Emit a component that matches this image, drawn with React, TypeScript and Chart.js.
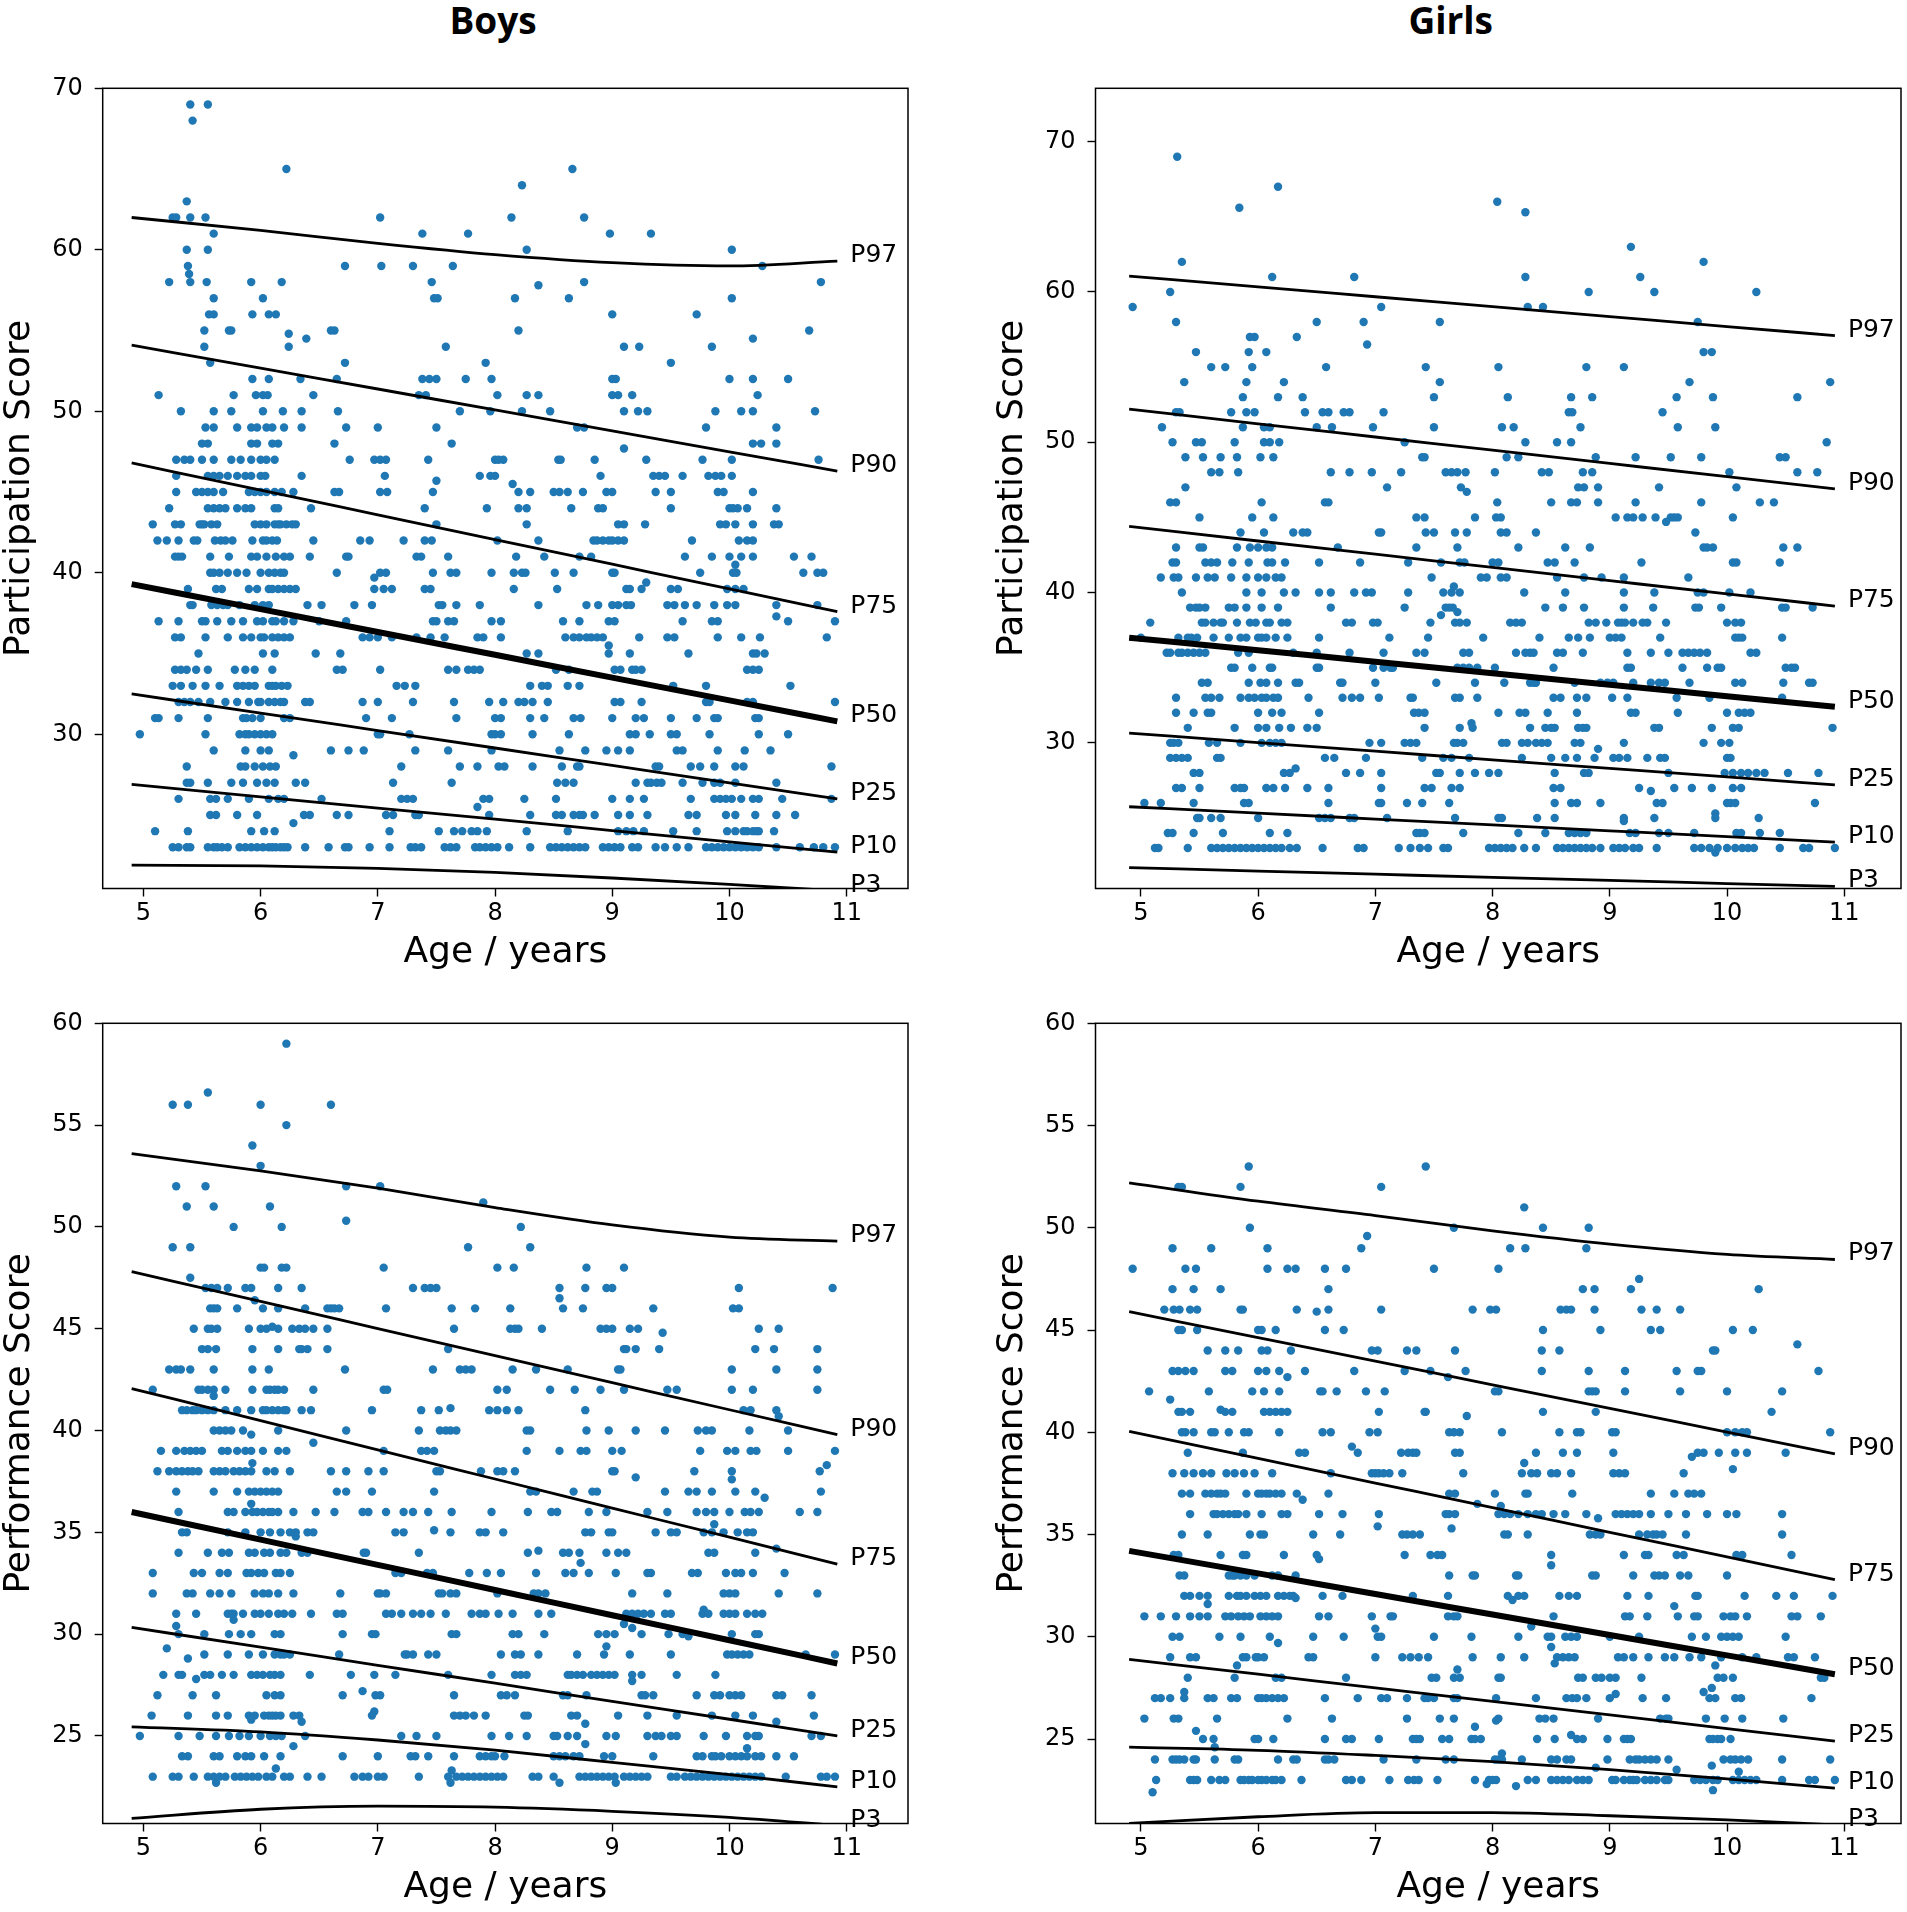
import React, { useEffect, useRef } from 'react';
import { Chart, registerables } from 'chart.js';
Chart.register(...registerables);

const FONT = '"DejaVu Sans"';
const DOT = '#1f77b4';

const ageTicks = [5, 6, 7, 8, 9, 10, 11];
const participationTicks = [30, 40, 50, 60, 70];
const performanceTicks = [25, 30, 35, 40, 45, 50, 55, 60];
const pctLabels = ['P97', 'P90', 'P75', 'P50', 'P25', 'P10', 'P3'];
const curveAges = [4.9, 6, 7, 8, 9, 10, 10.92];

// percentile curves (values at curveAges), order as pctLabels
const boysPartCurves = [
  [62.0, 61.2, 60.4, 59.7, 59.2, 59.0, 59.3],
  [54.1, 52.67, 51.38, 50.08, 48.79, 47.49, 46.3],
  [46.8, 45.12, 43.59, 42.06, 40.53, 39.0, 37.6],
  [39.3, 37.75, 36.33, 34.92, 33.51, 32.1, 30.8],
  [32.5, 31.31, 30.23, 29.15, 28.07, 26.99, 26.0],
  [26.9, 26.13, 25.43, 24.74, 24.04, 23.34, 22.7],
  [21.9, 21.85, 21.7, 21.45, 21.1, 20.7, 20.3],
];
const girlsPartCurves = [
  [61.06, 60.34, 59.68, 59.02, 58.36, 57.7, 57.1],
  [52.2, 51.23, 50.35, 49.47, 48.59, 47.71, 46.9],
  [44.4, 43.43, 42.55, 41.67, 40.79, 39.91, 39.1],
  [37.0, 36.16, 35.4, 34.63, 33.87, 33.1, 32.4],
  [30.65, 30.02, 29.45, 28.87, 28.3, 27.73, 27.2],
  [25.75, 25.32, 24.93, 24.54, 24.15, 23.76, 23.4],
  [21.7, 21.47, 21.26, 21.05, 20.85, 20.64, 20.45],
];
const boysPerfCurves = [
  [53.6, 52.75, 51.9, 50.95, 50.1, 49.5, 49.3],
  [47.8, 46.34, 45.01, 43.68, 42.35, 41.02, 39.8],
  [42.06, 40.49, 39.05, 37.62, 36.19, 34.76, 33.44],
  [36.0, 34.64, 33.4, 32.17, 30.93, 29.7, 28.56],
  [30.33, 29.36, 28.47, 27.59, 26.7, 25.82, 25.0],
  [25.45, 25.2, 24.8, 24.3, 23.7, 23.1, 22.5],
  [20.95, 21.4, 21.55, 21.5, 21.3, 21.0, 20.6],
];
const girlsPerfCurves = [
  [52.2, 51.3, 50.6, 49.85, 49.2, 48.7, 48.45],
  [45.9, 44.63, 43.48, 42.32, 41.17, 40.01, 38.95],
  [40.05, 38.72, 37.52, 36.32, 35.11, 33.91, 32.8],
  [34.2, 33.1, 32.09, 31.09, 30.09, 29.09, 28.17],
  [28.9, 28.17, 27.5, 26.84, 26.18, 25.51, 24.9],
  [24.6, 24.45, 24.2, 23.9, 23.5, 23.05, 22.6],
  [20.87, 21.2, 21.4, 21.4, 21.25, 21.05, 20.8],
];

// scatter points: [score, [ages...]]
const boysPartRows: [number, number[]][] = [
  [69, [5.4, 5.55]], [68, [5.42]], [65, [6.22, 8.66]], [64, [8.23]], [63, [5.37]],
  [62, [5.25, 5.28, 5.4, 5.53, 7.02, 8.14, 8.76]],
  [61, [5.6, 7.38, 7.77, 8.98, 9.33]],
  [60, [5.37, 5.55, 8.27, 10.02]],
  [59, [5.38, 6.72, 7.03, 7.3, 7.64, 10.28]], [58.5, [5.39]],
  [58, [5.22, 5.4, 5.54, 5.92, 6.18, 7.46, 8.76, 10.78]], [57.8, [8.37]],
  [57, [5.6, 6.02, 7.48, 7.51, 8.17, 8.63, 10.02]],
  [56, [5.56, 5.6, 5.93, 6.07, 6.13, 9.0, 9.72]],
  [55, [5.52, 5.73, 5.75, 6.6, 6.63, 8.2, 10.68]], [54.8, [6.24]],
  [54, [5.52, 6.24, 7.58, 9.1, 9.23, 9.85]], [54.5, [6.39, 10.2]],
  [53, [5.57, 6.72, 7.92, 9.5]],
  [52, [5.93, 6.07, 6.34, 6.65, 7.38, 7.44, 7.5, 7.75, 7.97, 9.0, 9.03, 10.0, 10.2, 10.5]],
  [51, [5.13, 5.77, 5.96, 6.02, 6.06, 6.45, 7.35, 7.41, 8.02, 8.27, 8.37, 9.0, 9.05, 9.17, 10.24]],
  [50, [5.32, 5.6, 5.75, 6.02, 6.19, 6.35, 6.66, 7.7, 7.96, 8.23, 8.47, 9.1, 9.22, 9.3, 9.88, 10.1, 10.2, 10.73]],
  [49, [5.53, 5.6, 5.8, 5.92, 5.97, 6.05, 6.1, 6.2, 6.35, 6.73, 7.0, 7.5, 8.7, 8.76, 9.8, 10.4]],
  [48, [5.5, 5.55, 5.92, 5.97, 6.1, 6.15, 6.63, 7.63, 10.2, 10.27, 10.4]], [47.7, [9.1]],
  [47, [5.28, 5.35, 5.4, 5.5, 5.6, 5.75, 5.83, 5.92, 6.0, 6.05, 6.12, 6.76, 6.97, 7.02, 7.07, 7.43, 8.0, 8.03, 8.07, 8.54, 8.56, 8.85, 9.29, 9.77, 10.02, 10.76]],
  [46, [5.28, 5.55, 5.6, 5.65, 5.72, 5.8, 5.87, 5.92, 6.0, 6.04, 6.35, 7.06, 7.87, 7.96, 8.0, 8.9, 9.35, 9.4, 9.45, 9.6, 9.82, 9.88, 9.93, 10.02]],
  [45.7, [7.5]], [45.5, [8.15]],
  [45, [5.28, 5.45, 5.5, 5.55, 5.6, 5.68, 5.9, 5.95, 6.0, 6.05, 6.12, 6.18, 6.28, 6.63, 6.67, 7.02, 7.08, 7.47, 8.2, 8.3, 8.5, 8.55, 8.62, 8.75, 8.95, 9.0, 9.37, 9.5, 9.9, 9.95, 10.2]],
  [44, [5.22, 5.55, 5.6, 5.65, 5.7, 5.8, 5.87, 5.92, 6.12, 6.15, 6.43, 7.4, 7.93, 8.2, 8.27, 8.65, 8.88, 8.92, 9.5, 10.0, 10.03, 10.07, 10.15, 10.4]],
  [43, [5.08, 5.27, 5.32, 5.48, 5.5, 5.52, 5.58, 5.63, 5.95, 6.0, 6.05, 6.12, 6.15, 6.17, 6.22, 6.27, 6.3, 7.5, 8.27, 9.05, 9.1, 9.28, 9.92, 9.97, 10.05, 10.2, 10.38, 10.42]],
  [42, [5.12, 5.2, 5.3, 5.43, 5.46, 5.61, 5.66, 5.7, 5.76, 5.93, 6.02, 6.05, 6.1, 6.14, 6.45, 6.85, 6.93, 7.22, 7.4, 7.46, 8.02, 8.37, 8.84, 8.87, 8.92, 8.97, 9.0, 9.05, 9.1, 9.68, 10.08, 10.15, 10.2]],
  [41, [5.27, 5.3, 5.33, 5.57, 5.73, 5.92, 5.97, 6.05, 6.13, 6.2, 6.25, 6.42, 6.73, 6.75, 7.33, 7.37, 7.6, 8.18, 8.42, 8.72, 8.82, 9.62, 9.85, 10.0, 10.1, 10.2, 10.55, 10.7]],
  [40.5, [10.05]],
  [40, [5.57, 5.6, 5.65, 5.72, 5.8, 5.88, 6.0, 6.07, 6.12, 6.17, 6.2, 6.65, 7.02, 7.07, 7.47, 7.62, 7.67, 7.97, 8.16, 8.23, 8.26, 8.51, 8.67, 9.0, 9.02, 9.75, 10.03, 10.06, 10.63, 10.75, 10.8]],
  [39.7, [6.97]], [39.4, [9.29]],
  [39, [5.38, 5.62, 5.67, 5.9, 5.97, 6.07, 6.1, 6.15, 6.2, 6.25, 6.3, 6.97, 7.05, 7.12, 7.4, 7.45, 8.16, 8.53, 9.12, 9.15, 9.25, 9.5, 9.56, 9.98, 10.05, 10.12]],
  [38, [5.4, 5.42, 5.58, 5.63, 5.68, 5.72, 5.82, 5.95, 6.02, 6.07, 6.4, 6.52, 6.8, 6.95, 7.52, 7.55, 7.67, 7.87, 8.37, 8.78, 8.88, 9.0, 9.05, 9.12, 9.16, 9.47, 9.53, 9.62, 9.72, 9.87, 9.98, 10.05, 10.4, 10.75]],
  [37.3, [10.4]],
  [37, [5.13, 5.3, 5.5, 5.53, 5.63, 5.75, 5.85, 5.97, 6.02, 6.1, 6.13, 6.2, 6.28, 6.5, 6.73, 7.47, 7.5, 7.6, 7.65, 7.97, 8.05, 8.58, 8.72, 8.97, 9.02, 9.6, 9.85, 9.9, 10.5, 10.9]],
  [36, [5.27, 5.32, 5.53, 5.72, 5.85, 5.92, 6.0, 6.03, 6.1, 6.15, 6.2, 6.25, 6.87, 6.93, 7.0, 7.12, 7.33, 7.45, 7.57, 7.85, 7.9, 8.05, 8.6, 8.67, 8.72, 8.78, 8.82, 8.87, 8.92, 9.23, 9.47, 9.53, 9.9, 10.1, 10.26, 10.83]],
  [35.5, [8.97]],
  [35, [5.47, 6.02, 6.12, 6.47, 6.68, 8.27, 8.37, 8.97, 9.15, 9.65, 10.2, 10.23, 10.3]],
  [34, [5.27, 5.32, 5.37, 5.45, 5.55, 5.78, 5.87, 5.95, 6.1, 6.65, 6.7, 7.02, 7.6, 7.67, 7.77, 7.82, 7.87, 8.52, 8.63, 9.02, 9.07, 9.17, 9.2, 9.25, 10.15, 10.2, 10.25]],
  [33, [5.25, 5.32, 5.42, 5.53, 5.65, 5.8, 5.85, 5.9, 5.95, 6.07, 6.1, 6.13, 6.18, 6.23, 7.16, 7.23, 7.32, 8.3, 8.4, 8.45, 8.62, 8.72, 9.52, 9.8, 10.52]],
  [32, [5.3, 5.35, 5.4, 5.47, 5.57, 5.7, 5.8, 5.9, 5.98, 6.0, 6.07, 6.12, 6.17, 6.2, 6.38, 6.42, 6.87, 7.0, 7.3, 7.65, 7.95, 8.07, 8.2, 8.25, 8.32, 8.45, 9.02, 9.07, 9.25, 9.8, 9.83, 10.15, 10.2, 10.9]],
  [31, [5.1, 5.13, 5.3, 5.55, 5.85, 5.88, 5.93, 6.0, 6.2, 6.25, 6.9, 7.12, 7.67, 8.0, 8.05, 8.3, 8.42, 8.67, 8.73, 9.0, 9.2, 9.27, 9.5, 9.72, 9.87, 9.9, 10.22, 10.25]],
  [30, [4.97, 5.53, 5.82, 5.87, 5.9, 5.95, 6.0, 6.05, 6.1, 7.0, 7.02, 7.27, 7.97, 8.0, 8.05, 8.32, 8.63, 9.15, 9.2, 9.32, 9.5, 9.55, 9.83, 10.25, 10.5]],
  [29, [5.6, 5.87, 6.0, 6.07, 6.6, 6.75, 6.88, 7.32, 7.6, 7.97, 8.55, 8.77, 8.95, 9.05, 9.15, 9.55, 9.6, 9.9, 10.13, 10.35]],
  [28.7, [6.28]],
  [28, [5.37, 5.83, 5.87, 5.95, 6.02, 6.08, 6.13, 7.2, 7.7, 7.85, 8.03, 8.08, 8.32, 8.57, 8.7, 8.72, 9.37, 9.4, 9.67, 9.75, 9.87, 10.05, 10.12, 10.87]],
  [27, [5.37, 5.4, 5.55, 5.75, 5.85, 5.97, 6.05, 6.12, 6.3, 6.38, 7.13, 7.63, 8.53, 8.6, 8.67, 9.2, 9.3, 9.33, 9.38, 9.42, 9.6, 9.77, 9.87, 9.92, 10.05, 10.4]],
  [26, [5.3, 5.57, 5.62, 5.72, 5.9, 6.07, 6.15, 6.2, 6.52, 7.2, 7.25, 7.3, 7.9, 7.95, 8.25, 8.52, 9.0, 9.15, 9.27, 9.67, 9.87, 9.92, 9.97, 10.02, 10.1, 10.2, 10.25, 10.45, 10.87]],
  [25.5, [7.85]],
  [25, [5.57, 5.62, 5.8, 5.97, 6.37, 6.42, 6.65, 6.75, 7.07, 7.13, 7.32, 7.35, 7.95, 8.3, 8.52, 8.57, 8.67, 8.72, 8.75, 8.85, 9.05, 9.15, 9.3, 9.65, 9.72, 9.97, 10.05, 10.22, 10.4, 10.56]],
  [24.5, [6.28]],
  [24, [5.1, 5.38, 5.92, 6.03, 6.12, 7.1, 7.52, 7.65, 7.72, 7.8, 7.85, 7.93, 8.27, 8.62, 9.05, 9.12, 9.18, 9.27, 9.52, 9.72, 9.98, 10.05, 10.12, 10.15, 10.2, 10.23, 10.25, 10.38]],
  [23, [5.25, 5.3, 5.37, 5.4, 5.55, 5.6, 5.63, 5.67, 5.72, 5.82, 5.87, 5.92, 5.97, 6.02, 6.07, 6.1, 6.13, 6.17, 6.2, 6.23, 6.38, 6.58, 6.72, 6.75, 6.93, 7.1, 7.28, 7.32, 7.37, 7.57, 7.62, 7.67, 7.83, 7.87, 7.92, 7.97, 8.02, 8.12, 8.3, 8.47, 8.52, 8.57, 8.62, 8.67, 8.72, 8.77, 8.92, 8.97, 9.02, 9.07, 9.17, 9.22, 9.37, 9.45, 9.55, 9.65, 9.8, 9.85, 9.9, 9.95, 10.0, 10.05, 10.1, 10.15, 10.2, 10.25, 10.4, 10.6, 10.72, 10.8, 10.9]],
];

const girlsPartRows: [number, number[]][] = [
  [69, [5.31]], [67, [6.17]], [66, [8.04]], [65.6, [5.84]], [65.3, [8.28]], [63, [9.18]],
  [62, [5.35, 9.8]],
  [61, [6.12, 6.82, 8.28, 9.26]],
  [60, [5.25, 8.82, 9.38, 10.25]],
  [59, [4.93, 7.05, 8.3, 8.43]],
  [58, [5.3, 6.5, 6.9, 7.55, 9.75]],
  [57, [5.93, 5.97, 6.33]], [56.5, [6.93]],
  [56, [5.47, 5.92, 6.07, 9.8, 9.87]],
  [55, [5.6, 5.72, 5.95, 6.58, 7.43, 8.05, 8.8, 9.12]],
  [54, [5.37, 5.9, 6.22, 7.55, 9.68, 10.88]],
  [53, [5.87, 6.17, 6.38, 7.5, 8.13, 8.67, 8.85, 9.57, 9.88, 10.6]],
  [52, [5.3, 5.33, 5.77, 5.9, 5.97, 6.4, 6.55, 6.6, 6.73, 6.78, 7.07, 8.65, 8.68, 9.45]],
  [51, [5.18, 5.87, 6.05, 6.1, 6.5, 6.63, 6.98, 7.5, 8.08, 8.18, 8.75, 9.58, 9.9]],
  [50, [5.27, 5.47, 5.52, 5.8, 6.05, 6.1, 6.18, 7.25, 8.28, 8.55, 8.67, 10.85]],
  [49, [5.38, 5.53, 5.68, 5.82, 6.02, 6.13, 7.4, 7.42, 8.12, 8.22, 8.88, 9.22, 9.52, 9.78, 10.45, 10.5]],
  [48, [5.6, 5.67, 5.83, 6.62, 6.78, 6.97, 7.22, 7.6, 7.65, 7.7, 7.77, 8.02, 8.42, 8.48, 8.77, 8.85, 10.02, 10.6, 10.77]],
  [47, [5.38, 7.1, 7.73, 8.73, 8.78, 8.9, 9.42, 10.08]], [46.7, [7.78]],
  [46, [5.25, 5.3, 6.03, 6.57, 6.6, 8.04, 8.5, 8.67, 8.72, 8.9, 9.22, 9.78, 10.28, 10.4]],
  [45, [5.5, 5.95, 6.13, 7.35, 7.42, 7.85, 8.03, 8.07, 9.05, 9.15, 9.2, 9.28, 9.39, 9.52, 9.55, 9.58, 10.05]],
  [44.7, [9.48]],
  [44, [5.85, 6.05, 6.3, 6.38, 6.42, 7.03, 7.05, 7.43, 7.5, 7.68, 7.78, 8.07, 8.12, 8.37, 9.73]],
  [43, [5.3, 5.5, 5.53, 5.82, 5.93, 6.0, 6.07, 6.12, 6.68, 7.35, 7.7, 8.22, 8.62, 8.83, 9.8, 9.83, 9.88, 10.48, 10.6]],
  [42, [5.27, 5.3, 5.55, 5.6, 5.65, 5.78, 5.92, 6.08, 6.12, 6.23, 6.52, 6.87, 7.28, 7.56, 7.72, 7.76, 8.0, 8.05, 8.47, 8.53, 8.7, 9.27, 10.05, 10.08, 10.45]],
  [41, [5.17, 5.28, 5.32, 5.47, 5.57, 5.63, 5.77, 5.9, 6.0, 6.07, 6.15, 6.2, 7.48, 7.9, 7.95, 8.07, 8.12, 8.55, 8.78, 8.93, 9.12, 9.67]],
  [40.4, [7.67]],
  [40, [5.35, 5.9, 6.03, 6.22, 6.32, 6.52, 6.62, 6.82, 6.92, 6.97, 7.28, 7.58, 7.65, 7.72, 8.27, 8.62, 9.12, 9.38, 9.75, 9.8, 10.02, 10.2]],
  [39, [5.42, 5.47, 5.5, 5.55, 5.75, 5.8, 5.9, 6.03, 6.17, 6.62, 7.25, 7.6, 7.63, 7.66, 8.45, 8.6, 8.78, 9.12, 9.37, 9.73, 9.76, 9.95, 10.47, 10.5, 10.73]],
  [38.7, [7.7]], [38.5, [7.56]],
  [38, [5.08, 5.52, 5.55, 5.62, 5.68, 5.7, 5.82, 5.93, 5.98, 6.07, 6.1, 6.2, 6.25, 6.75, 6.8, 6.98, 7.02, 7.47, 7.68, 7.72, 7.78, 8.15, 8.2, 8.25, 8.82, 8.88, 8.97, 9.07, 9.1, 9.13, 9.2, 9.28, 9.32, 9.48, 10.0, 10.07, 10.12]],
  [37, [5.0, 5.32, 5.4, 5.43, 5.48, 5.62, 5.75, 5.85, 5.9, 6.0, 6.03, 6.07, 6.15, 6.25, 6.52, 7.12, 7.45, 7.92, 8.4, 8.65, 8.73, 8.83, 9.0, 9.05, 9.1, 9.43, 10.07, 10.1, 10.13, 10.47]],
  [36, [5.22, 5.25, 5.32, 5.35, 5.4, 5.45, 5.5, 5.55, 5.83, 5.92, 6.3, 6.5, 6.78, 7.07, 7.35, 7.42, 7.75, 7.8, 8.2, 8.28, 8.32, 8.35, 8.55, 8.6, 8.77, 9.15, 9.35, 9.5, 9.62, 9.67, 9.72, 9.77, 9.83, 10.2, 10.25]],
  [35, [5.77, 5.8, 5.95, 6.1, 6.12, 6.5, 6.52, 6.98, 7.07, 7.13, 7.15, 7.7, 7.75, 7.8, 7.87, 8.02, 8.52, 9.15, 9.18, 9.62, 9.83, 9.92, 9.95, 10.5, 10.55, 10.58]],
  [34, [5.52, 5.57, 5.92, 6.02, 6.07, 6.17, 6.32, 6.35, 6.7, 6.72, 7.0, 7.52, 7.85, 8.1, 8.32, 8.35, 8.37, 8.7, 8.92, 8.98, 9.03, 9.2, 9.35, 9.42, 9.47, 9.68, 10.07, 10.13, 10.48, 10.7, 10.73]],
  [33, [5.3, 5.55, 5.6, 5.67, 5.85, 5.92, 5.97, 6.03, 6.07, 6.13, 6.17, 6.43, 6.72, 6.8, 6.87, 7.03, 7.3, 7.32, 7.68, 7.72, 7.87, 8.52, 8.58, 8.72, 8.8, 9.02, 9.15, 9.57, 9.85, 10.47]],
  [32, [5.3, 5.45, 5.57, 5.6, 6.0, 6.12, 6.2, 6.52, 7.33, 7.37, 7.42, 8.05, 8.23, 8.28, 8.47, 8.72, 9.18, 9.22, 9.58, 10.0, 10.1, 10.15, 10.2]],
  [31.3, [7.82]],
  [31, [5.4, 5.8, 6.0, 6.07, 6.18, 6.28, 6.42, 6.5, 7.42, 7.72, 7.83, 8.32, 8.45, 8.5, 8.53, 8.73, 8.77, 8.8, 9.38, 9.42, 9.87, 10.05, 10.1, 10.9]],
  [30, [5.25, 5.28, 5.32, 5.58, 5.65, 5.85, 6.03, 6.1, 6.15, 6.2, 6.95, 7.05, 7.25, 7.3, 7.35, 7.67, 7.7, 7.75, 8.08, 8.12, 8.25, 8.3, 8.37, 8.42, 8.47, 8.7, 8.75, 9.12, 9.8, 9.95, 10.02]],
  [29.6, [8.9]],
  [29, [5.25, 5.3, 5.35, 5.4, 5.65, 5.68, 6.57, 6.65, 6.92, 7.4, 7.58, 7.65, 7.8, 8.25, 8.5, 8.62, 8.72, 8.87, 9.03, 9.08, 9.15, 9.32, 9.43, 9.47, 10.0, 10.03]],
  [28.3, [6.32]],
  [28, [5.45, 5.5, 6.22, 6.27, 6.75, 6.87, 7.05, 7.52, 7.55, 7.72, 7.85, 7.97, 8.05, 8.53, 8.78, 8.82, 9.5, 9.98, 10.05, 10.12, 10.18, 10.25, 10.32, 10.52, 10.78]],
  [27, [5.3, 5.35, 5.5, 5.8, 5.85, 5.88, 6.07, 6.13, 6.23, 6.42, 6.6, 7.05, 7.42, 7.48, 7.65, 7.72, 8.52, 8.58, 9.25, 9.55, 9.7, 9.87, 10.05, 10.12]],
  [26.8, [9.35]],
  [26, [5.03, 5.17, 5.45, 5.88, 5.92, 6.6, 7.03, 7.05, 7.27, 7.4, 7.63, 8.53, 8.67, 8.72, 8.92, 9.4, 9.45, 10.0, 10.03, 10.07, 10.75]],
  [25.3, [9.9]],
  [25, [5.48, 5.5, 5.6, 5.68, 6.0, 6.52, 6.57, 6.62, 6.78, 6.82, 7.1, 7.68, 8.05, 8.08, 8.38, 8.53, 9.12, 9.38, 9.9, 10.27]],
  [24.8, [9.12]],
  [24, [5.23, 5.27, 5.45, 5.7, 6.1, 6.25, 7.35, 7.38, 7.42, 7.75, 8.22, 8.45, 8.65, 8.7, 8.75, 8.8, 9.17, 9.22, 9.42, 9.5, 9.72, 10.08, 10.12, 10.28, 10.45]],
  [23, [5.12, 5.15, 5.4, 5.6, 5.65, 5.7, 5.75, 5.8, 5.85, 5.9, 5.95, 6.0, 6.05, 6.1, 6.15, 6.2, 6.27, 6.33, 6.55, 6.85, 6.9, 7.2, 7.3, 7.38, 7.45, 7.58, 7.62, 7.97, 8.02, 8.07, 8.12, 8.17, 8.27, 8.37, 8.55, 8.6, 8.65, 8.7, 8.75, 8.8, 8.85, 8.92, 9.03, 9.08, 9.13, 9.2, 9.25, 9.4, 9.72, 9.78, 9.85, 9.92, 10.0, 10.07, 10.13, 10.18, 10.23, 10.45, 10.65, 10.7, 10.92]],
  [22.7, [9.9]],
];

const boysPerfRows: [number, number[]][] = [
  [59, [6.22]], [56.6, [5.55]], [56, [5.25, 5.38, 6.0, 6.6]], [55, [6.22]], [54, [5.93]], [53, [6.0]],
  [52, [5.28, 5.53, 6.73, 7.02]], [51.2, [7.9]], [51, [5.37, 5.6, 6.08]], [50.3, [6.73]],
  [50, [5.77, 6.18, 8.22]], [49, [5.25, 5.4, 7.77, 8.3]],
  [48, [6.0, 6.03, 6.18, 6.22, 7.05, 8.02, 8.16, 8.78, 9.1]], [47.5, [5.4]],
  [47, [5.53, 5.58, 5.63, 5.72, 5.87, 5.92, 6.15, 6.35, 7.3, 7.4, 7.45, 7.5, 8.55, 8.77, 8.95, 9.0, 10.08, 10.88]],
  [46.5, [8.55]], [46.4, [5.95]],
  [46, [5.57, 5.6, 5.63, 5.8, 6.02, 6.15, 6.38, 6.57, 6.6, 6.63, 6.67, 7.07, 7.63, 7.83, 8.13, 8.58, 8.75, 9.35, 10.03, 10.08]],
  [45.1, [6.1]],
  [45, [5.43, 5.55, 5.58, 5.63, 5.9, 6.0, 6.05, 6.15, 6.27, 6.33, 6.38, 6.45, 6.57, 7.65, 8.13, 8.17, 8.2, 8.4, 8.9, 8.95, 9.0, 9.15, 9.22, 10.25, 10.42]],
  [44.8, [9.43]],
  [44, [5.5, 5.55, 5.62, 5.93, 6.15, 6.33, 6.35, 6.4, 6.57, 7.6, 9.1, 9.12, 9.2, 9.4, 10.22, 10.38, 10.75]],
  [43, [5.22, 5.28, 5.32, 5.4, 5.6, 5.93, 6.07, 6.72, 7.47, 7.7, 7.75, 7.8, 8.15, 8.35, 8.62, 9.05, 9.07, 10.02, 10.4, 10.75]],
  [42, [5.08, 5.47, 5.5, 5.55, 5.6, 5.7, 5.93, 6.05, 6.08, 6.12, 6.15, 6.2, 6.45, 7.05, 7.08, 8.02, 8.1, 8.47, 8.68, 8.9, 9.1, 9.47, 9.55, 10.02, 10.2, 10.75]],
  [41.7, [5.6]], [41.1, [7.62]],
  [41, [5.33, 5.37, 5.42, 5.45, 5.5, 5.55, 5.6, 5.7, 5.8, 5.92, 6.02, 6.05, 6.1, 6.15, 6.2, 6.22, 6.35, 6.43, 6.95, 7.37, 7.52, 7.95, 8.02, 8.1, 8.2, 8.77, 10.12, 10.18, 10.4]],
  [40.7, [10.42]],
  [40, [5.6, 5.65, 5.7, 5.75, 5.85, 6.15, 6.73, 7.35, 7.53, 7.58, 7.62, 7.67, 8.27, 8.3, 8.78, 8.97, 9.2, 9.45, 9.73, 9.8, 9.85, 10.17, 10.5]],
  [39.8, [5.92]], [39.4, [6.45]],
  [39, [5.15, 5.28, 5.35, 5.4, 5.45, 5.5, 5.67, 5.72, 5.8, 5.87, 5.92, 6.02, 6.15, 6.22, 7.05, 7.37, 7.42, 7.48, 8.27, 8.55, 8.73, 8.78, 9.0, 9.08, 9.75, 9.98, 10.05, 10.18, 10.23, 10.5, 10.9]],
  [38.4, [5.93]], [38.3, [10.83]],
  [38, [5.12, 5.22, 5.28, 5.33, 5.38, 5.42, 5.47, 5.6, 5.65, 5.7, 5.77, 5.82, 5.87, 5.92, 6.05, 6.12, 6.25, 6.6, 6.73, 6.92, 7.05, 7.5, 7.53, 7.88, 8.02, 8.07, 8.17, 9.0, 9.02, 9.7, 10.02, 10.77]],
  [37.7, [9.2]], [37.6, [10.02]],
  [37, [5.28, 5.6, 5.8, 5.9, 5.95, 6.0, 6.05, 6.1, 6.15, 6.65, 6.73, 6.95, 7.48, 8.3, 8.35, 8.67, 8.83, 8.87, 9.45, 9.65, 9.72, 9.85, 10.05, 10.22, 10.78]],
  [36.7, [10.3]], [36.4, [5.92]],
  [36, [5.3, 5.72, 5.77, 5.87, 5.93, 5.97, 6.02, 6.07, 6.1, 6.15, 6.28, 6.47, 6.63, 6.87, 6.92, 7.07, 7.22, 7.3, 7.43, 7.63, 7.97, 8.28, 8.48, 8.53, 8.8, 8.95, 9.3, 9.47, 9.72, 9.8, 9.87, 10.0, 10.13, 10.18, 10.25, 10.6, 10.75]],
  [35.4, [9.87]], [35.1, [7.48]],
  [35, [5.33, 5.37, 5.72, 5.87, 6.0, 6.08, 6.17, 6.25, 6.3, 6.4, 6.45, 7.15, 7.22, 7.62, 7.87, 7.92, 8.07, 8.77, 8.82, 8.97, 9.0, 9.37, 9.5, 9.55, 9.78, 9.85, 9.95, 10.07, 10.15, 10.2]],
  [34.8, [6.3]], [34.2, [10.4]], [34.1, [8.37]],
  [34, [5.3, 5.55, 5.67, 5.73, 5.9, 5.95, 6.03, 6.08, 6.17, 6.22, 6.35, 6.4, 6.88, 6.9, 7.35, 8.28, 8.58, 8.63, 8.72, 8.95, 9.05, 9.12, 9.82, 9.87, 10.22]],
  [33.5, [8.73]],
  [33, [5.08, 5.43, 5.5, 5.65, 5.72, 5.88, 5.92, 5.98, 6.03, 6.13, 6.17, 6.25, 7.15, 7.2, 7.42, 7.47, 7.78, 7.93, 8.05, 8.35, 8.6, 8.67, 8.8, 9.03, 9.3, 9.33, 9.68, 9.73, 9.97, 10.05, 10.1, 10.2, 10.47]],
  [32, [5.08, 5.37, 5.42, 5.57, 5.65, 5.75, 5.95, 6.02, 6.07, 6.15, 6.28, 6.68, 7.0, 7.02, 7.07, 7.52, 7.55, 7.62, 7.67, 8.02, 8.33, 8.37, 8.43, 9.17, 9.47, 9.95, 10.0, 10.05, 10.42, 10.75]],
  [31.2, [9.78]],
  [31, [5.28, 5.45, 5.72, 5.75, 5.77, 5.85, 5.95, 6.0, 6.07, 6.15, 6.2, 6.27, 6.43, 6.65, 6.7, 7.07, 7.12, 7.2, 7.3, 7.37, 7.45, 7.58, 7.8, 7.87, 7.92, 8.03, 8.15, 8.37, 8.48, 9.12, 9.17, 9.22, 9.27, 9.33, 9.45, 9.5, 9.77, 9.82, 9.95, 10.0, 10.05, 10.15, 10.22, 10.28]],
  [30.7, [5.77]], [30.5, [9.1]], [30.4, [5.28]], [30.3, [9.17]],
  [30, [5.3, 5.52, 5.73, 5.83, 5.92, 6.12, 6.17, 6.7, 6.95, 6.98, 7.63, 7.67, 8.15, 8.2, 8.42, 8.88, 8.95, 9.02, 9.25, 9.48, 9.6, 10.02, 10.22, 10.25]],
  [29.9, [9.65]], [29.4, [8.95]], [29.3, [5.2]],
  [29, [5.52, 5.72, 5.9, 6.02, 6.12, 6.17, 6.2, 6.25, 6.67, 7.23, 7.25, 7.3, 7.43, 7.5, 8.05, 8.17, 8.22, 8.37, 8.7, 8.93, 9.15, 9.5, 9.98, 10.02, 10.07, 10.12, 10.17, 10.65, 10.9]],
  [28.8, [5.38]],
  [28, [5.17, 5.3, 5.33, 5.52, 5.57, 5.67, 5.77, 5.92, 5.97, 6.02, 6.08, 6.12, 6.17, 6.42, 6.77, 6.97, 7.15, 7.6, 7.97, 8.17, 8.22, 8.27, 8.62, 8.65, 8.7, 8.75, 8.82, 8.87, 8.92, 8.97, 9.02, 9.17, 9.25, 9.55, 9.88]],
  [27.8, [5.45]], [27.7, [9.17]], [27.2, [6.87]],
  [27, [5.12, 5.42, 5.62, 6.05, 6.12, 6.17, 6.7, 6.98, 7.02, 7.65, 8.05, 8.1, 8.17, 8.58, 8.62, 8.78, 9.25, 9.28, 9.35, 9.72, 9.87, 9.92, 10.0, 10.05, 10.1, 10.4, 10.45, 10.7]],
  [26.2, [6.97]],
  [26, [5.07, 5.38, 5.62, 5.72, 5.9, 5.95, 6.03, 6.07, 6.1, 6.13, 6.17, 6.28, 6.33, 6.95, 7.65, 7.7, 7.75, 7.82, 7.92, 8.25, 8.28, 8.65, 8.7, 9.05, 9.3, 9.55, 9.85, 10.05, 10.2, 10.72]],
  [25.8, [5.92]], [25.7, [6.35, 10.4]], [25.6, [8.77]],
  [25, [4.97, 5.3, 5.48, 5.62, 5.73, 5.82, 5.9, 6.0, 6.08, 6.13, 6.18, 6.38, 7.2, 7.33, 7.5, 7.97, 8.12, 8.27, 8.5, 8.53, 8.62, 8.7, 8.95, 9.03, 9.3, 9.37, 9.42, 9.5, 9.55, 9.78, 9.97, 10.15, 10.22, 10.25, 10.7, 10.78]],
  [24.6, [8.77]], [24.5, [6.28]], [24.4, [10.15]],
  [24, [5.33, 5.38, 5.6, 5.65, 5.8, 5.87, 5.92, 6.03, 6.17, 6.7, 7.0, 7.28, 7.32, 7.43, 7.65, 7.87, 7.92, 7.97, 8.0, 8.08, 8.5, 8.55, 8.6, 8.67, 8.72, 8.93, 9.0, 9.35, 9.72, 9.77, 9.85, 9.88, 9.93, 10.0, 10.05, 10.1, 10.15, 10.22, 10.27, 10.4, 10.55]],
  [23.4, [6.13]], [23.3, [7.63]],
  [23, [5.08, 5.25, 5.3, 5.43, 5.55, 5.6, 5.65, 5.7, 5.78, 5.83, 5.88, 5.93, 5.98, 6.05, 6.1, 6.2, 6.25, 6.4, 6.52, 6.8, 6.87, 6.92, 7.0, 7.05, 7.35, 7.6, 7.67, 7.72, 7.77, 7.82, 7.87, 7.92, 7.97, 8.02, 8.07, 8.32, 8.37, 8.5, 8.72, 8.77, 8.82, 8.87, 8.92, 8.97, 9.02, 9.1, 9.15, 9.2, 9.25, 9.3, 9.5, 9.55, 9.62, 9.67, 9.72, 9.77, 9.82, 9.87, 9.92, 9.97, 10.02, 10.07, 10.12, 10.17, 10.22, 10.27, 10.48, 10.78, 10.83, 10.9]],
  [22.7, [5.62, 7.62, 8.55, 9.03]],
];

const girlsPerfRows: [number, number[]][] = [
  [53, [5.92, 7.43]], [52, [5.32, 5.35, 5.85, 7.05]], [51, [8.27]],
  [50, [5.93, 7.67, 8.43, 8.82]], [49.6, [6.93]],
  [49, [5.27, 5.6, 6.08, 6.88, 8.15, 8.28, 8.8]],
  [48, [4.93, 5.38, 5.47, 6.08, 6.25, 6.32, 6.57, 6.75, 7.5, 8.05]], [47.5, [9.25]],
  [47, [5.27, 5.45, 5.68, 6.6, 8.77, 8.87, 9.18, 10.27]],
  [46, [5.2, 5.28, 5.33, 5.42, 5.48, 5.85, 5.87, 6.33, 6.6, 7.05, 7.83, 7.98, 8.03, 8.58, 8.63, 8.67, 8.87, 9.27, 9.4, 9.6]],
  [45.9, [6.5]],
  [45, [5.32, 5.35, 5.48, 6.0, 6.03, 6.15, 6.57, 6.73, 8.43, 8.92, 9.35, 9.43, 10.05, 10.22]],
  [44.3, [10.6]],
  [44, [5.57, 5.72, 5.83, 6.03, 6.08, 6.28, 6.97, 7.02, 7.27, 7.35, 7.68, 8.42, 8.57, 9.88, 9.9]],
  [43, [5.27, 5.32, 5.38, 5.45, 5.72, 5.78, 6.0, 6.07, 6.18, 6.4, 6.82, 7.25, 7.47, 7.77, 8.42, 8.82, 9.13, 9.57, 9.75, 9.78, 10.78]],
  [42.7, [6.25, 7.62]],
  [42, [5.07, 5.58, 5.95, 6.05, 6.18, 6.53, 6.55, 6.67, 6.92, 7.08, 8.02, 8.05, 8.82, 8.85, 8.88, 9.13, 9.6, 10.0, 10.47]],
  [41.6, [5.25]], [41.1, [5.68]],
  [41, [5.32, 5.35, 5.42, 5.72, 5.78, 6.05, 6.1, 6.15, 6.2, 6.25, 7.03, 7.42, 7.43, 8.43, 8.88, 10.38]],
  [40.8, [7.78]],
  [40, [5.35, 5.38, 5.45, 5.6, 5.63, 5.75, 5.88, 5.92, 6.18, 6.55, 6.62, 6.95, 7.02, 7.63, 7.67, 7.72, 8.08, 8.57, 8.72, 8.75, 9.02, 9.05, 10.0, 10.07, 10.13, 10.17, 10.88]],
  [39.3, [6.8]],
  [39, [5.4, 5.87, 6.35, 6.4, 6.85, 7.22, 7.28, 7.32, 7.35, 7.68, 7.72, 8.37, 8.6, 8.72, 9.03, 9.75, 9.8, 9.93, 10.07, 10.17, 10.5]],
  [38.8, [9.7]], [38.5, [8.27]], [38.2, [10.05]],
  [38, [5.27, 5.37, 5.45, 5.53, 5.6, 5.73, 5.8, 5.88, 5.97, 6.12, 6.62, 6.97, 7.0, 7.03, 7.07, 7.12, 7.23, 7.75, 8.25, 8.33, 8.38, 8.5, 8.55, 8.67, 9.03, 9.08, 9.13, 9.63]],
  [37, [5.35, 5.42, 5.55, 5.6, 5.65, 5.68, 5.72, 5.9, 6.0, 6.03, 6.07, 6.1, 6.15, 6.2, 6.33, 6.6, 7.63, 7.68, 8.02, 8.28, 8.3, 8.68, 9.35, 9.55, 9.67, 9.72, 9.78]],
  [36.7, [6.38]], [36.5, [7.87]], [36.4, [8.07]],
  [36, [5.42, 5.62, 5.65, 5.7, 5.75, 5.8, 5.83, 5.9, 6.03, 6.2, 6.25, 6.52, 6.72, 7.03, 7.6, 7.63, 7.68, 8.05, 8.1, 8.15, 8.22, 8.3, 8.37, 8.42, 8.52, 8.62, 8.8, 9.05, 9.1, 9.15, 9.2, 9.25, 9.35, 9.5, 9.65, 9.83, 10.0, 10.08, 10.47]],
  [35.8, [8.9]], [35.4, [7.02]], [35.3, [7.65]],
  [35, [5.35, 5.57, 5.93, 6.02, 6.05, 6.47, 6.7, 7.23, 7.27, 7.32, 7.38, 8.1, 8.13, 8.3, 8.83, 8.88, 8.92, 9.25, 9.32, 9.37, 9.4, 9.45, 9.65, 10.47]],
  [34, [5.28, 5.32, 5.68, 5.87, 5.9, 6.22, 6.5, 7.25, 7.47, 7.53, 7.57, 8.5, 9.12, 9.3, 9.33, 9.57, 9.63, 10.08, 10.13, 10.55]],
  [33.8, [6.52]], [33.5, [8.5]],
  [33, [5.33, 5.37, 5.75, 5.78, 5.8, 5.85, 5.9, 5.97, 6.12, 6.17, 6.32, 7.63, 7.83, 7.85, 8.2, 8.22, 8.85, 8.88, 9.2, 9.38, 9.42, 9.47, 9.6, 9.67, 10.0]],
  [32, [5.37, 5.42, 5.5, 5.57, 5.75, 5.82, 5.85, 5.9, 5.97, 6.02, 6.07, 6.17, 6.22, 6.27, 6.3, 6.55, 6.72, 7.32, 7.62, 8.13, 8.22, 8.27, 8.57, 8.65, 8.72, 9.15, 9.33, 9.73, 9.75, 10.15, 10.42, 10.57, 10.9]],
  [31.9, [6.32]], [31.8, [8.17]], [31.6, [5.57]], [31.5, [9.55]],
  [31, [5.03, 5.17, 5.3, 5.42, 5.5, 5.57, 5.72, 5.77, 5.83, 5.88, 5.93, 6.02, 6.07, 6.12, 6.17, 6.52, 6.6, 6.97, 7.13, 7.15, 7.62, 7.67, 7.7, 8.52, 9.13, 9.17, 9.32, 9.58, 9.72, 9.75, 9.97, 10.03, 10.07, 10.17, 10.55, 10.6, 10.8]],
  [30.5, [8.33]], [30.4, [7.0]],
  [30, [5.27, 5.33, 5.67, 5.85, 6.1, 6.47, 6.73, 7.02, 7.05, 7.5, 7.82, 8.22, 8.47, 8.5, 8.62, 8.67, 8.72, 9.0, 9.25, 9.7, 9.82, 9.95, 10.0, 10.05, 10.1, 10.5]],
  [29.7, [6.17]], [29.5, [8.5]],
  [29, [5.25, 5.42, 5.47, 5.87, 5.9, 5.98, 6.0, 6.05, 6.43, 6.47, 7.0, 7.23, 7.3, 7.37, 7.45, 7.83, 8.07, 8.27, 8.55, 8.6, 8.65, 8.7, 9.07, 9.12, 9.2, 9.33, 9.47, 9.55, 9.68, 9.78, 9.95, 10.13, 10.25, 10.52, 10.57, 10.75]],
  [28.7, [8.53]], [28.6, [5.82, 9.9]], [28.4, [7.7]],
  [28, [5.4, 5.8, 6.15, 6.2, 6.75, 7.48, 7.52, 7.67, 7.72, 8.05, 8.07, 8.73, 8.77, 8.88, 8.93, 9.0, 9.05, 9.27, 9.92, 9.97, 10.05, 10.8, 10.83]],
  [27.5, [9.87]], [27.3, [5.37, 9.8]], [27.2, [9.05]],
  [27, [5.12, 5.17, 5.25, 5.37, 5.57, 5.62, 5.77, 5.82, 6.0, 6.03, 6.07, 6.12, 6.17, 6.22, 6.57, 6.85, 7.05, 7.1, 7.27, 7.42, 7.45, 7.5, 7.67, 7.7, 8.03, 8.37, 8.63, 8.68, 8.72, 8.8, 9.0, 9.28, 9.48, 9.85, 9.9, 10.07, 10.12, 10.72]],
  [26, [5.03, 5.28, 5.32, 5.65, 6.25, 6.63, 7.27, 7.55, 7.67, 8.05, 8.4, 8.45, 8.52, 8.9, 9.43, 9.48, 9.5, 9.82, 9.98, 10.13, 10.48]],
  [25.9, [8.03]], [25.6, [7.85]], [25.4, [5.47]], [25.2, [8.67]],
  [25, [5.53, 5.62, 5.97, 6.0, 6.13, 6.57, 6.75, 6.8, 7.03, 7.32, 7.35, 7.38, 7.57, 7.63, 7.82, 7.85, 7.9, 8.38, 8.53, 8.72, 8.77, 8.98, 9.12, 9.15, 9.18, 9.85, 9.88, 9.92, 9.95, 10.03]],
  [24.6, [5.63]], [24.3, [8.08]],
  [24, [5.12, 5.27, 5.3, 5.33, 5.37, 5.45, 5.47, 5.63, 5.8, 5.83, 6.17, 6.3, 6.33, 6.57, 6.6, 6.65, 7.07, 7.35, 7.6, 7.67, 8.02, 8.05, 8.08, 8.25, 8.5, 8.55, 8.63, 8.67, 8.98, 9.17, 9.22, 9.25, 9.3, 9.35, 9.4, 9.5, 9.97, 10.03, 10.07, 10.12, 10.18, 10.47, 10.88]],
  [23.7, [9.87]], [23.6, [8.88]], [23.5, [9.57]], [23.4, [10.1]],
  [23, [5.13, 5.42, 5.45, 5.48, 5.6, 5.67, 5.72, 5.85, 5.88, 5.92, 5.95, 6.0, 6.03, 6.07, 6.12, 6.15, 6.2, 6.37, 6.75, 6.8, 6.88, 7.12, 7.28, 7.33, 7.37, 7.53, 7.85, 7.97, 8.0, 8.03, 8.3, 8.37, 8.5, 8.55, 8.6, 8.65, 8.72, 8.77, 8.82, 9.02, 9.05, 9.12, 9.17, 9.2, 9.23, 9.3, 9.35, 9.4, 9.47, 9.5, 9.72, 9.77, 9.82, 9.88, 9.92, 10.05, 10.1, 10.15, 10.2, 10.25, 10.47, 10.7, 10.75, 10.92]],
  [22.8, [7.95]], [22.7, [8.2]], [22.5, [9.88]], [22.4, [5.1]],
];

type Geo = { left: number; top: number; width: number; height: number; padTop: number; padRight: number; yW: number; xH: number; yTitlePad: number };

const pctPlugin = {
  id: 'pctAndFrame',
  afterDatasetsDraw(chart: any) {
    const ctx = chart.ctx;
    const a = chart.chartArea;
    ctx.save();
    ctx.strokeStyle = '#000';
    ctx.lineWidth = 1.5;
    ctx.strokeRect(a.left, a.top, a.right - a.left, a.bottom - a.top);
    const xs = chart.scales.x;
    const ys = chart.scales.y;
    ctx.font = `25px ${FONT}`;
    ctx.fillStyle = '#000';
    ctx.textAlign = 'left';
    ctx.textBaseline = 'alphabetic';
    chart.data.datasets.forEach((ds: any) => {
      if (!ds.pctLabel) return;
      const last = ds.data[ds.data.length - 1];
      ctx.fillText(ds.pctLabel, xs.getPixelForValue(last.x) + 13, ys.getPixelForValue(last.y) + 1);
    });
    ctx.restore();
  },
};

function Panel(props: { rows: [number, number[]][]; curves: number[][]; yTicks: number[]; xMin: number; xMax: number; yMin: number; yMax: number; yTitle: string; geo: Geo }) {
  const ref = useRef<HTMLCanvasElement>(null);
  const { rows, curves, yTicks, xMin, xMax, yMin, yMax, yTitle, geo } = props;
  useEffect(() => {
    if (!ref.current) return;
    const points = rows.flatMap(([y, xs]) => xs.map((x) => ({ x, y })));
    const lineSets = curves.map((vals, i) => ({
      type: 'scatter',
      pctLabel: pctLabels[i],
      data: curveAges.map((x, j) => ({ x, y: vals[j] })),
      showLine: true,
      borderColor: '#000',
      borderWidth: pctLabels[i] === 'P50' ? 6 : 2.8,
      pointRadius: 0,
      cubicInterpolationMode: 'monotone',
      order: 0,
    }));
    const tickFont = { family: FONT, size: 24 };
    const titleFont = { family: FONT, size: 36, lineHeight: 1 };
    const chart = new Chart(ref.current, {
      type: 'scatter',
      data: {
        datasets: [
          ...lineSets,
          { data: points, backgroundColor: DOT, borderWidth: 0, pointRadius: 4.2, order: 1 },
        ] as any,
      },
      options: {
        animation: false,
        responsive: false,
        events: [],
        layout: { padding: { top: geo.padTop, right: geo.padRight, left: 0, bottom: 0 } },
        plugins: { legend: { display: false }, tooltip: { enabled: false } },
        scales: {
          x: {
            type: 'linear',
            min: xMin,
            max: xMax,
            afterBuildTicks: (s: any) => { s.ticks = ageTicks.map((v) => ({ value: v })); },
            afterFit: (s: any) => { s.height = geo.xH; },
            ticks: { font: tickFont, color: '#000', padding: 3, maxRotation: 0, autoSkip: false },
            grid: { display: true, drawOnChartArea: false, drawTicks: true, tickLength: 8, tickColor: '#000', tickWidth: 1.4 },
            border: { display: false },
            title: { display: true, text: 'Age / years', font: titleFont, color: '#000', padding: { top: 0, bottom: 0.5 } },
          },
          y: {
            type: 'linear',
            min: yMin,
            max: yMax,
            afterBuildTicks: (s: any) => { s.ticks = yTicks.map((v) => ({ value: v })); },
            afterFit: (s: any) => { s.width = geo.yW; },
            ticks: { font: tickFont, color: '#000', padding: 12, autoSkip: false },
            grid: { display: true, drawOnChartArea: false, drawTicks: true, tickLength: 8, tickColor: '#000', tickWidth: 1.4 },
            border: { display: false },
            title: { display: true, text: yTitle, font: titleFont, color: '#000', padding: { top: geo.yTitlePad, bottom: 0 } },
          },
        },
      } as any,
      plugins: [pctPlugin as any],
    });
    return () => chart.destroy();
  }, []);
  return (
    <canvas
      ref={ref}
      width={geo.width}
      height={geo.height}
      style={{ position: 'absolute', left: geo.left, top: geo.top, width: geo.width, height: geo.height, display: 'block' }}
    />
  );
}

const titleStyle: React.CSSProperties = {
  position: 'absolute', width: 300, textAlign: 'center', top: 1, font: '700 37px "Open Sans"', lineHeight: '38px', color: '#000',
};

export default function App() {
  return (
    <div style={{ position: 'absolute', left: 0, top: 0, width: 1907, height: 1912, background: '#fff', overflow: 'hidden' }}>
      <div style={{ ...titleStyle, left: 493 - 150 }}>Boys</div>
      <div style={{ ...titleStyle, left: 1450.7 - 150 }}>Girls</div>
      <Panel rows={boysPartRows} curves={boysPartCurves} yTicks={participationTicks} xMin={4.653} xMax={11.523} yMin={20.45} yMax={70} yTitle="Participation Score"
        geo={{ left: 0, top: 40, width: 930, height: 931, padTop: 48.3, padRight: 22, yW: 102.7, xH: 82.5, yTitlePad: 1.8 }} />
      <Panel rows={girlsPartRows} curves={girlsPartCurves} yTicks={participationTicks} xMin={4.613} xMax={11.484} yMin={20.31} yMax={73.55} yTitle="Participation Score"
        geo={{ left: 993, top: 40, width: 914, height: 931, padTop: 48.3, padRight: 6, yW: 102.5, xH: 82.5, yTitlePad: 1.9 }} />
      <Panel rows={boysPerfRows} curves={boysPerfCurves} yTicks={performanceTicks} xMin={4.653} xMax={11.523} yMin={20.7} yMax={60} yTitle="Performance Score"
        geo={{ left: 0, top: 975, width: 930, height: 931, padTop: 48.3, padRight: 22, yW: 102.7, xH: 82.5, yTitlePad: 1.8 }} />
      <Panel rows={girlsPerfRows} curves={girlsPerfCurves} yTicks={performanceTicks} xMin={4.613} xMax={11.484} yMin={20.87} yMax={60} yTitle="Performance Score"
        geo={{ left: 993, top: 975, width: 914, height: 931, padTop: 48.3, padRight: 6, yW: 102.5, xH: 82.5, yTitlePad: 1.9 }} />
    </div>
  );
}
